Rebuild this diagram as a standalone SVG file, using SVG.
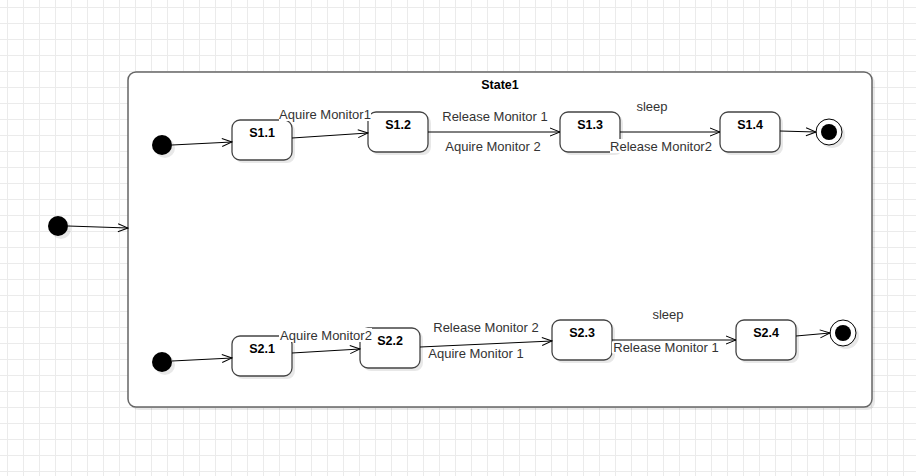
<svg xmlns="http://www.w3.org/2000/svg" width="916" height="476" viewBox="0 0 916 476">
<defs>
<pattern id="grid" x="0" y="0" width="16" height="16" patternUnits="userSpaceOnUse">
<path d="M7.5 0V16M0 7.5H16" stroke="#ebebeb" stroke-width="1" fill="none"/>
</pattern>
<marker id="arr" viewBox="0 0 12 10" refX="11" refY="5" markerWidth="12" markerHeight="10" markerUnits="userSpaceOnUse" orient="auto">
<path d="M1 1L11 5L1 9" fill="none" stroke="#000" stroke-width="1"/>
</marker>
</defs>
<style>
.st{fill:#fff;stroke:#444;stroke-width:1.3}
.sh{fill:#000;opacity:0.09}
.nl{font-family:"Liberation Sans",Arial,sans-serif;font-size:12.5px;font-weight:bold;fill:#000;text-anchor:middle}
.el{font-family:"Liberation Sans",Arial,sans-serif;font-size:13px;fill:#333;text-anchor:middle}
.bg{fill:#fff}
.c{stroke:#000;stroke-width:1;fill:none;marker-end:url(#arr)}
.dot{fill:#000}
</style>
<rect width="916" height="476" fill="#fff"/>
<rect width="916" height="476" fill="url(#grid)"/>

<g id="State1">
<rect class="sh" x="131" y="75" width="744" height="335" rx="8"/>
<rect x="128" y="72" width="744" height="335" rx="8" fill="#fff" stroke="#666" stroke-width="1.5"/>
<text class="nl" x="500" y="89">State1</text>
</g>

<g id="init0"><circle class="sh" cx="61" cy="229" r="10"/><circle class="dot" cx="58" cy="226" r="10"/></g>
<g id="init1"><circle class="sh" cx="165" cy="148" r="10"/><circle class="dot" cx="162" cy="145" r="10"/></g>
<g id="init2"><circle class="sh" cx="165" cy="365" r="10"/><circle class="dot" cx="162" cy="362" r="10"/></g>

<g id="S1.1"><rect class="sh" x="235" y="123" width="60" height="40" rx="8"/><rect class="st" x="232" y="120" width="60" height="40" rx="8"/><text class="nl" x="262" y="137">S1.1</text></g>
<g id="S1.2"><rect class="sh" x="371" y="115" width="60" height="40" rx="8"/><rect class="st" x="368" y="112" width="60" height="40" rx="8"/><text class="nl" x="398" y="129">S1.2</text></g>
<g id="S1.3"><rect class="sh" x="563" y="115" width="60" height="40" rx="8"/><rect class="st" x="560" y="112" width="60" height="40" rx="8"/><text class="nl" x="590" y="129">S1.3</text></g>
<g id="S1.4"><rect class="sh" x="723" y="115" width="60" height="40" rx="8"/><rect class="st" x="720" y="112" width="60" height="40" rx="8"/><text class="nl" x="750" y="129">S1.4</text></g>
<g id="final1"><circle class="sh" cx="832" cy="135" r="13"/><circle cx="829" cy="132" r="13" fill="#fff" stroke="#000" stroke-width="1"/><circle class="dot" cx="829" cy="132" r="8"/></g>

<g id="S2.1"><rect class="sh" x="235" y="339" width="60" height="40" rx="8"/><rect class="st" x="232" y="336" width="60" height="40" rx="8"/><text class="nl" x="262" y="353">S2.1</text></g>
<g id="S2.2"><rect class="sh" x="363" y="331" width="60" height="40" rx="8"/><rect class="st" x="360" y="328" width="60" height="40" rx="8"/><text class="nl" x="390" y="345">S2.2</text></g>
<g id="S2.3"><rect class="sh" x="555" y="323" width="60" height="40" rx="8"/><rect class="st" x="552" y="320" width="60" height="40" rx="8"/><text class="nl" x="582" y="337">S2.3</text></g>
<g id="S2.4"><rect class="sh" x="739" y="323" width="60" height="40" rx="8"/><rect class="st" x="736" y="320" width="60" height="40" rx="8"/><text class="nl" x="766" y="337">S2.4</text></g>
<g id="final2"><circle class="sh" cx="846" cy="336" r="13"/><circle cx="843" cy="333" r="13" fill="#fff" stroke="#000" stroke-width="1"/><circle class="dot" cx="843" cy="333" r="8"/></g>

<g id="connectors">
<path class="c" d="M68 226L128 228"/>
<path class="c" d="M172 145L232 142"/>
<path class="c" d="M292 138L368 133"/>
<path class="c" d="M428 132L560 132"/>
<path class="c" d="M620 132L720 132"/>
<path class="c" d="M780 131L816 132"/>
<path class="c" d="M172 361L232 358"/>
<path class="c" d="M292 353L360 349"/>
<path class="c" d="M420 347L552 341"/>
<path class="c" d="M612 340L736 340"/>
<path class="c" d="M796 336L830 333"/>

<rect class="bg" x="279" y="107" width="92" height="14"/>
<text class="el" x="325" y="119">Aquire Monitor1</text>
<text class="el" x="495" y="121">Release Monitor 1</text>
<text class="el" x="493" y="151">Aquire Monitor 2</text>
<text class="el" x="652" y="111">sleep</text>
<rect class="bg" x="610" y="139" width="102" height="14"/>
<text class="el" x="661" y="151">Release Monitor2</text>

<rect class="bg" x="279" y="328" width="93" height="14"/>
<text class="el" x="326" y="340">Aquire Monitor2</text>
<text class="el" x="486" y="332">Release Monitor 2</text>
<text class="el" x="476" y="358">Aquire Monitor 1</text>
<text class="el" x="668" y="319">sleep</text>
<rect class="bg" x="612" y="341.5" width="108" height="12"/>
<text class="el" x="666" y="352">Release Monitor 1</text>
</g>
</svg>
